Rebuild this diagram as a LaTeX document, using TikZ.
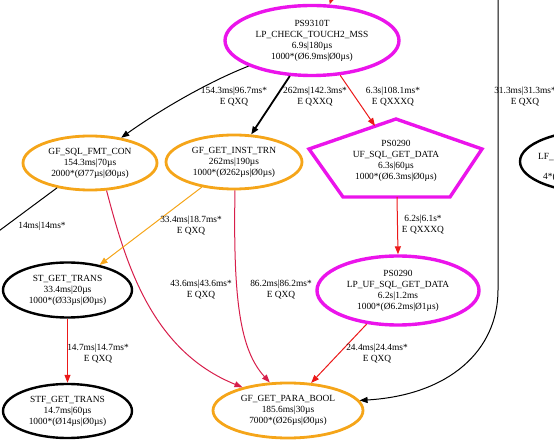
\documentclass[tikz,border=0pt]{standalone}
\usepackage{fontspec}
\setmainfont{Liberation Serif}
\usetikzlibrary{shapes.geometric,arrows.meta}
\definecolor{gvmag}{RGB}{235,20,235}
\definecolor{gvorange}{RGB}{245,165,25}
\definecolor{gvred}{RGB}{235,25,25}
\definecolor{gvcrimson}{RGB}{215,30,75}
\begin{document}
\begin{tikzpicture}[x=1pt,y=-1pt,
  every node/.style={font=\fontsize{9.4}{11}\selectfont},
  fn/.style={ellipse, draw, align=center, inner sep=0pt},
  magnode/.style={fn, draw=gvmag, line width=3.4pt},
  orgnode/.style={fn, draw=gvorange, line width=2.8pt},
  blknode/.style={fn, draw=black, line width=2.4pt},
  lbl/.style={align=center, inner sep=0pt},
  conn/.style={line width=1pt, -{Triangle[length=8pt,width=6pt]}},
]
\useasboundingbox (0,0) rectangle (554,443);
\clip (0,0) rectangle (554,443);

% nodes
\node[magnode, minimum width=174pt, minimum height=70pt] (ps9310) at (312,40.5)
  {PS9310T\\LP\_CHECK\_TOUCH2\_MSS\\6.9s|180µs\\1000*(Ø6.9ms|Ø0µs)};
\node[orgnode, minimum width=134pt, minimum height=54pt] (gfsql) at (90,163)
  {GF\_SQL\_FMT\_CON\\154.3ms|70µs\\2000*(Ø77µs|Ø0µs)};
\node[orgnode, minimum width=136pt, minimum height=54pt] (gfinst) at (234,162)
  {GF\_GET\_INST\_TRN\\262ms|190µs\\1000*(Ø262µs|Ø0µs)};
\draw[gvmag, line width=3.4pt, line join=miter] (396,119) -- (482,149) -- (450,197) -- (343,197) -- (309,149) -- cycle;
\node[lbl] (uf) at (396,161)
  {PS0290\\UF\_SQL\_GET\_DATA\\6.3s|60µs\\1000*(Ø6.3ms|Ø0µs)};
\coordinate (ufin) at (375,126);
\coordinate (ufout) at (397,197);
\node[magnode, minimum width=162pt, minimum height=69pt] (lpuf) at (398,290.5)
  {PS0290\\LP\_UF\_SQL\_GET\_DATA\\6.2s|1.2ms\\1000*(Ø6.2ms|Ø1µs)};
\node[blknode, minimum width=129pt, minimum height=55pt] (st) at (67.5,290)
  {ST\_GET\_TRANS\\33.4ms|20µs\\1000*(Ø33µs|Ø0µs)};
\node[blknode, minimum width=129pt, minimum height=54pt] (stf) at (67.5,411)
  {STF\_GET\_TRANS\\14.7ms|60µs\\1000*(Ø14µs|Ø0µs)};
\node[orgnode, minimum width=150pt, minimum height=55pt] (para) at (288,410.5)
  {GF\_GET\_PARA\_BOOL\\185.6ms|30µs\\7000*(Ø26µs|Ø0µs)};
\node[blknode, minimum width=160pt, minimum height=63pt] (lf) at (600,161.5) {};
\node[lbl, anchor=west] (lfa) at (538,157) {LF\_};
\node[lbl, anchor=west] (lfb) at (543,177.5) {4*(};

% connectors
\coordinate (topin) at (333,-5);
\draw[conn, gvred] (topin) -- (ps9310.64);
\draw[conn, black] (ps9310.202) .. controls (208,82) and (160,110) .. (gfsql.39.8);
\draw[conn, black, line width=1.8pt] (ps9310.238) -- (gfinst.58);
\draw[conn, gvred] (ps9310.309) -- (ufin);
\coordinate (offl) at (-20,245);
\draw[line width=1pt] (gfsql.217.5) -- (offl);
\draw[conn, gvcrimson] (gfsql.301) .. controls (125,260) and (150,350) .. (para.153.4);
\draw[conn, gvorange] (gfinst.218) -- (st.38.2);
\draw[conn, gvcrimson] (gfinst.272) .. controls (233,300) and (240,350) .. (para.123);
\draw[conn, gvred] (st.south) -- (stf.north);
\draw[conn, gvred] (ufout) -- (lpuf.north);
\draw[conn, gvred] (lpuf.227.3) -- (para.50.3);
\coordinate (rtop) at (498,-5);
\coordinate (rbend) at (498,290);
\draw[conn, black] (rtop) -- (rbend) .. controls (498,350) and (450,395) .. (para.8.7);

% labels
\node[lbl] (l1) at (234,97) {154.3ms|96.7ms*\\E QXQ};
\node[lbl] (l2) at (315,97) {262ms|142.3ms*\\E QXXQ};
\node[lbl] (l3) at (393,97) {6.3s|108.1ms*\\E QXXXQ};
\node[lbl] (l4) at (525,97) {31.3ms|31.3ms*\\E QXQ};
\node[lbl] (l5) at (42,226) {14ms|14ms*};
\node[lbl] (l6) at (191,225.5) {33.4ms|18.7ms*\\E QXQ};
\node[lbl] (l7) at (201,289.5) {43.6ms|43.6ms*\\E QXQ};
\node[lbl] (l8) at (281,289.5) {86.2ms|86.2ms*\\E QXQ};
\node[lbl] (l9) at (98,353.5) {14.7ms|14.7ms*\\E QXQ};
\node[lbl] (l10) at (423,224.5) {6.2s|6.1s*\\E QXXXQ};
\node[lbl] (l11) at (377,353.5) {24.4ms|24.4ms*\\E QXQ};
\end{tikzpicture}
\end{document}
